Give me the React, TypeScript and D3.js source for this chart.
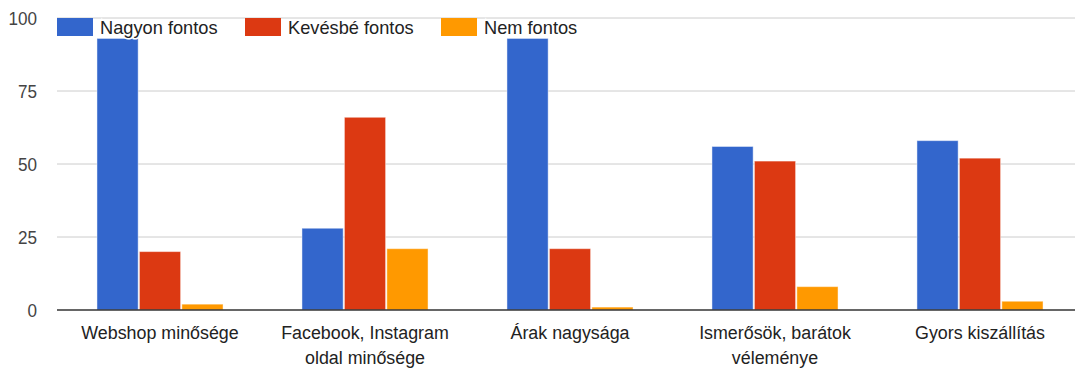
import React from "react";
import * as d3 from "d3";

const categories: string[][] = [
  ["Webshop minősége"],
  ["Facebook, Instagram", "oldal minősége"],
  ["Árak nagysága"],
  ["Ismerősök, barátok", "véleménye"],
  ["Gyors kiszállítás"],
];
const seriesNames = ["Nagyon fontos", "Kevésbé fontos", "Nem fontos"];
const nagyonFontos = [93, 28, 93, 56, 58];
const kevesbeFontos = [20, 66, 21, 51, 52];
const nemFontos = [2, 21, 1, 8, 3];
const yTicks = [0, 25, 50, 75, 100];
const colors = ["#3366cc", "#dc3912", "#ff9900"];

const W = 1075;
const H = 368;
const FONT = "'Liberation Sans', Arial, sans-serif";
const FS = 19;

export default function App() {
  const values = [nagyonFontos, kevesbeFontos, nemFontos];
  const left = 57;
  const right = 1075;
  const y = d3.scaleLinear().domain([0, 100]).range([310, 18]);
  const x0 = d3
    .scaleBand<number>()
    .domain(d3.range(categories.length))
    .range([left, 1083])
    .paddingInner(0.385)
    .paddingOuter(0.195);
  const x1 = d3
    .scaleBand<number>()
    .domain(d3.range(seriesNames.length))
    .range([0, x0.bandwidth()])
    .paddingInner(0.03);

  const legendX = [57, 245, 441];

  const label = (
    x: number,
    yy: number,
    s: string,
    anchor: "start" | "middle" | "end",
    fill: string,
    sx: number,
    halo = false,
    key?: string
  ) => (
    <g key={key} transform={`translate(${x},${yy}) scale(${sx},1)`}>
      <text
        x={0}
        y={0}
        textAnchor={anchor}
        fontFamily={FONT}
        fontSize={FS}
        fill={fill}
        stroke={halo ? "#fff" : "none"}
        strokeWidth={halo ? 3 : 0}
        paintOrder="stroke"
      >
        {s}
      </text>
    </g>
  );

  return (
    <svg width={W} height={H} style={{ position: "absolute", left: 0, top: 0 }}>
      <rect width={W} height={H} fill="#fff" />
      {yTicks.map((t) => (
        <g key={t}>
          {t !== 0 && (
            <line x1={left} x2={right} y1={y(t)} y2={y(t)} stroke="#cccccc" strokeWidth={1} />
          )}
          {label(37, y(t) + 7, String(t), "end", "#444", 0.9)}
        </g>
      ))}
      {categories.map((_, ci) => (
        <g key={ci} transform={`translate(${x0(ci)},0)`}>
          {values.map((vals, si) => (
            <rect
              key={si}
              x={x1(si)}
              y={y(vals[ci])}
              width={x1.bandwidth()}
              height={y(0) - y(vals[ci])}
              fill={colors[si]}
              stroke="#fff"
              strokeOpacity={0.45}
              strokeWidth={1}
            />
          ))}
        </g>
      ))}
      <line x1={left} x2={right} y1={y(0)} y2={y(0)} stroke="#333" strokeWidth={1.5} />
      {categories.map((lines, ci) =>
        lines.map((ln, li) =>
          label(
            (x0(ci) as number) + x0.bandwidth() / 2,
            339 + li * 25,
            ln,
            "middle",
            "#222",
            0.94,
            false,
            `${ci}-${li}`
          )
        )
      )}
      {seriesNames.map((s, i) => (
        <g key={s}>
          <rect x={legendX[i]} y={18} width={36} height={18} fill={colors[i]} />
          {label(legendX[i] + 43, 34, s, "start", "#222", 0.96, true)}
        </g>
      ))}
    </svg>
  );
}
